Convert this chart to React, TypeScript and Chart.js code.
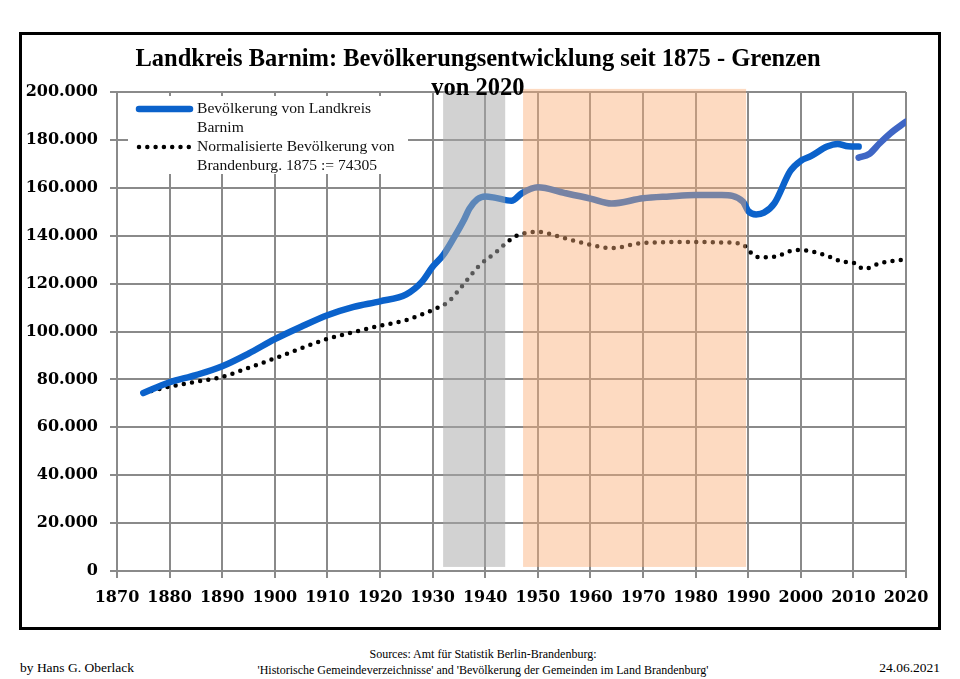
import { useEffect, useRef } from "react";
import { Chart, registerables } from "chart.js";

Chart.register(...registerables);

// Bevölkerung Landkreis Barnim (Gebietsstand 2020), bis zum Zensus 2011
const barnimYears = [
  1875, 1880, 1885, 1890, 1895, 1900, 1905, 1910, 1915, 1920, 1925, 1928, 1930, 1932,
  1934, 1936, 1937, 1938.5, 1940, 1942, 1945, 1947, 1950, 1955, 1960, 1964, 1970, 1975,
  1980, 1985, 1989, 1990, 1991.5, 1993, 1995, 1998, 2000, 2002, 2005, 2007, 2009, 2011,
];
const barnimValues = [
  74305, 78800, 81800, 85500, 90800, 96800, 102000, 106800, 110300, 112600, 115500,
  120800, 127000, 131900, 139000, 146800, 151300, 155200, 156400, 155800, 154600,
  157800, 160200, 157900, 155500, 153400, 155600, 156400, 157000, 157000, 154200,
  150300, 148900, 149600, 153600, 167000, 171300, 173300, 177200, 178300, 177300, 177200,
];

// Fortschreibung auf Basis des Zensus 2011
const barnimYearsCensus = [2011, 2013, 2015, 2017, 2020];
const barnimValuesCensus = [172600, 174100, 178600, 182700, 187600];

// Normalisierte Bevölkerung von Brandenburg (1875 := 74305)
const brandenburgYears = [
  1875, 1880, 1885, 1890, 1895, 1900, 1905, 1910, 1915, 1920, 1925, 1930, 1933, 1935,
  1939, 1942, 1944, 1946, 1950, 1955, 1960, 1964, 1970, 1980, 1985, 1989, 1990, 1992,
  1995, 1998, 2000, 2005, 2008, 2010, 2012, 2015, 2020,
];
const brandenburgValues = [
  74305, 77000, 79000, 81100, 84800, 88800, 93000, 96900, 99800, 102400, 104800,
  109000, 112400, 117300, 127800, 133000, 137000, 140000, 141600, 139000, 136200,
  134800, 137000, 137400, 137200, 136400, 134000, 131000, 131200, 133600, 134000,
  131600, 129100, 128700, 126100, 128500, 130100,
];

// Zeiträume der Hintergrundbänder: NS-Zeit und DDR
const nsPeriod = [1932, 1943.8];
const ddrPeriod = [1947.2, 1989.6];

const xMin = 1870;
const xMax = 2020;
const xStep = 10;
const yMin = 0;
const yMax = 200000;
const yStep = 20000;

const legendLabels = [
  ["Bevölkerung von Landkreis", "Barnim"],
  ["Normalisierte Bevölkerung von", "Brandenburg. 1875 := 74305"],
];

const BLUE = "#0b62cb";
const BLUE_CENSUS = "#3f66c5";
const GRID = "#8a8a8a";

const toPoints = (xs: number[], ys: number[]) => xs.map((x, i) => ({ x, y: ys[i] }));

const formatThousands = (v: number) =>
  String(Math.round(v)).replace(/\B(?=(\d{3})+(?!\d))/g, ".");

const periodBands = {
  id: "periodBands",
  afterDatasetsDraw(chart: any) {
    const { ctx, scales } = chart;
    const x = scales.x;
    const y = scales.y;
    const bottom = y.getPixelForValue(1700);
    ctx.save();
    // grau: 1933–1945
    {
      const l = x.getPixelForValue(nsPeriod[0]);
      const r = x.getPixelForValue(nsPeriod[1]);
      const t = y.getPixelForValue(200300);
      ctx.fillStyle = "rgba(168,168,168,0.52)";
      ctx.fillRect(l, t, r - l, bottom - t);
    }
    // orange: DDR
    {
      const l = x.getPixelForValue(ddrPeriod[0]);
      const r = x.getPixelForValue(ddrPeriod[1]);
      const t = y.getPixelForValue(201300);
      ctx.fillStyle = "rgba(250,172,118,0.45)";
      ctx.fillRect(l, t, r - l, bottom - t);
    }
    ctx.restore();
  },
};

const boxLegend = {
  id: "boxLegend",
  afterDraw(chart: any) {
    const { ctx, chartArea } = chart;
    const left = chartArea.left + 11;
    const top = chartArea.top + 4;
    ctx.save();
    ctx.fillStyle = "#ffffff";
    ctx.fillRect(left, top, 280, 78);

    const sampleL = left + 11;
    const sampleR = left + 62;
    const textX = left + 69;
    const lineGap = 19;

    // Eintrag 1: durchgezogene blaue Linie
    const y1 = top + 13;
    ctx.strokeStyle = BLUE;
    ctx.lineWidth = 6.5;
    ctx.lineCap = "round";
    ctx.beginPath();
    ctx.moveTo(sampleL, y1);
    ctx.lineTo(sampleR, y1);
    ctx.stroke();

    // Eintrag 2: gepunktete schwarze Linie
    const y2 = y1 + 2 * lineGap;
    ctx.strokeStyle = "#000";
    ctx.lineWidth = 4.5;
    ctx.setLineDash([0, 8.3]);
    ctx.beginPath();
    ctx.moveTo(sampleL, y2);
    ctx.lineTo(sampleR, y2);
    ctx.stroke();
    ctx.setLineDash([]);

    ctx.fillStyle = "#111";
    ctx.font = '15.6px "Liberation Serif"';
    ctx.textBaseline = "middle";
    ctx.textAlign = "left";
    legendLabels.forEach((lines, i) => {
      lines.forEach((line, j) => {
        ctx.fillText(line, textX, y1 + (2 * i + j) * lineGap);
      });
    });
    ctx.restore();
  },
};

export default function App() {
  const canvasRef = useRef<HTMLCanvasElement>(null);

  useEffect(() => {
    const canvas = canvasRef.current;
    if (!canvas) return;
    const tickFont = { family: '"DejaVu Serif"', weight: "bold" as const, size: 16 };
    const chart = new Chart(canvas, {
      type: "line",
      data: {
        datasets: [
          {
            label: "Bevölkerung von Landkreis Barnim",
            data: toPoints(barnimYears, barnimValues),
            borderColor: BLUE,
            borderWidth: 6.5,
            borderCapStyle: "round",
            borderJoinStyle: "round",
            cubicInterpolationMode: "monotone",
            pointRadius: 0,
            fill: false,
          },
          {
            label: "Bevölkerung von Landkreis Barnim (Zensus 2011)",
            data: toPoints(barnimYearsCensus, barnimValuesCensus),
            borderColor: BLUE_CENSUS,
            borderWidth: 6.5,
            borderCapStyle: "round",
            borderJoinStyle: "round",
            cubicInterpolationMode: "monotone",
            pointRadius: 0,
            fill: false,
          },
          {
            label: "Normalisierte Bevölkerung von Brandenburg. 1875 := 74305",
            data: toPoints(brandenburgYears, brandenburgValues),
            borderColor: "#000",
            borderWidth: 4.5,
            borderCapStyle: "round",
            borderDash: [0, 8.3],
            cubicInterpolationMode: "monotone",
            pointRadius: 0,
            fill: false,
          },
        ],
      },
      options: {
        responsive: false,
        animation: false,
        devicePixelRatio: 1,
        layout: { padding: { left: 0, right: 54, top: 92, bottom: 29 } },
        plugins: {
          legend: { display: false },
          title: { display: false },
          tooltip: { enabled: false },
        },
        scales: {
          x: {
            type: "linear",
            min: xMin,
            max: xMax,
            afterFit: (scale: any) => {
              scale.height = 40;
            },
            ticks: {
              stepSize: xStep,
              color: "#000",
              font: tickFont,
              padding: 10,
              maxRotation: 0,
              callback: (v: any) => String(v),
            },
            grid: { color: GRID, lineWidth: 2, tickLength: 7 },
            border: { color: GRID, width: 2 },
          },
          y: {
            type: "linear",
            min: yMin,
            max: yMax,
            afterFit: (scale: any) => {
              scale.width = 117;
            },
            ticks: {
              stepSize: yStep,
              color: "#000",
              font: tickFont,
              padding: 12,
              callback: (v: any) => formatThousands(Number(v)),
            },
            grid: { color: GRID, lineWidth: 2, tickLength: 7 },
            border: { color: GRID, width: 2 },
          },
        },
      },
      plugins: [periodBands, boxLegend],
    } as any);
    return () => chart.destroy();
  }, []);

  const serif = '"Liberation Serif", "DejaVu Serif", serif';

  return (
    <div
      style={{
        position: "fixed",
        left: 0,
        top: 0,
        width: 960,
        height: 679,
        background: "#fff",
        overflow: "hidden",
        fontFamily: serif,
        color: "#000",
      }}
    >
      <div
        style={{
          position: "absolute",
          left: 19,
          top: 32,
          width: 916,
          height: 592,
          border: "3px solid #000",
        }}
      />
      <canvas
        ref={canvasRef}
        width={960}
        height={640}
        style={{ position: "absolute", left: 0, top: 0, width: 960, height: 640 }}
      />
      <div
        style={{
          position: "absolute",
          left: 0,
          top: 43,
          width: 956,
          textAlign: "center",
          fontWeight: "bold",
          fontSize: 24.5,
          lineHeight: "29px",
        }}
      >
        <div>Landkreis Barnim: Bevölkerungsentwicklung seit 1875 - Grenzen</div>
        <div>von 2020</div>
      </div>
      <div
        style={{
          position: "absolute",
          left: 0,
          top: 646,
          width: 966,
          textAlign: "center",
          fontSize: 12,
          lineHeight: "16px",
        }}
      >
        <div>Sources: Amt für Statistik Berlin-Brandenburg:</div>
        <div>'Historische Gemeindeverzeichnisse' and 'Bevölkerung der Gemeinden im Land Brandenburg'</div>
      </div>
      <div style={{ position: "absolute", left: 20, top: 659, fontSize: 13.5, lineHeight: "18px" }}>
        by Hans G. Oberlack
      </div>
      <div
        style={{
          position: "absolute",
          right: 20,
          top: 659,
          fontSize: 13.5,
          lineHeight: "18px",
        }}
      >
        24.06.2021
      </div>
    </div>
  );
}
